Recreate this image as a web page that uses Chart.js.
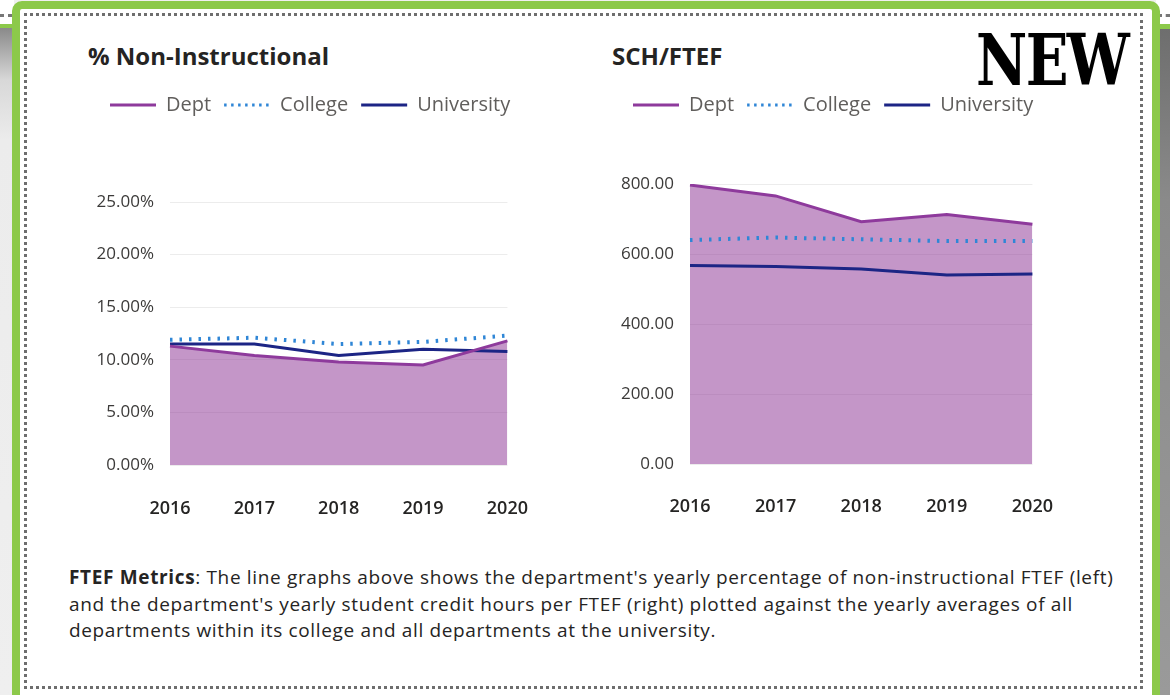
<!DOCTYPE html>
<html>
<head>
<meta charset="utf-8">
<script src="https://cdn.jsdelivr.net/npm/chart.js@4"></script>
<style>
  html, body { margin: 0; padding: 0; }
  body { width: 1170px; height: 695px; position: relative; overflow: hidden; background: #f0f0f0; font-family: "Open Sans", sans-serif; }
  .strip-l { position: absolute; left: 0; top: 0; width: 14px; height: 695px;
    background: linear-gradient(#fff 0, #fff 24px, #8cc94a 24px, #8cc94a 28px, #8a8a8a 28px, #d8d8d8 80px, #ececec 140px, #efefef 100%); }
  .strip-r { position: absolute; right: 0; top: 0; width: 14px; height: 695px;
    background: linear-gradient(#fff 0, #fff 24px, #8cc94a 24px, #8cc94a 29px, #6e6e6e 29px, #8a8a8a 200px, #9a9a9a 100%); }
  .dots-l { position: absolute; left: 0; top: 14px; width: 12px; border-top: 3px dotted #777; }
  .dots-r { position: absolute; right: 0; top: 14px; width: 12px; border-top: 3px dotted #777; }
  .card { position: absolute; left: 12px; top: 1px; width: 1132px; height: 740px; background: #fff;
    border: 8px solid #8cc94a; border-radius: 10px; }
  .inner { position: absolute; left: 24px; top: 13px; width: 1113px; height: 670px; border: 3px dotted #6e6e6e; }
  .title { position: absolute; font-weight: 700; font-size: 24px; color: #252423; line-height: 1; }
  .stamp { position: absolute; left: 976px; top: 25px; font-family: "DejaVu Serif", serif; font-weight: 900;
    font-size: 71px; line-height: 1; color: #000; transform: scaleX(0.79); transform-origin: 0 0; letter-spacing: -2px; }
  .wrap { position: absolute; }
  .desc { position: absolute; left: 69px; top: 564px; font-size: 19px; letter-spacing: 0.65px; line-height: 26.5px; color: #252423; white-space: nowrap; }
</style>
</head>
<body>
<div class="strip-l"></div><div class="strip-r"></div>
<div class="dots-l"></div><div class="dots-r"></div>
<div class="card"></div>
<div class="inner"></div>
<div class="title" style="left:88px; top:44px;">% Non-Instructional</div>
<div class="title" style="left:612px; top:44px;">SCH/FTEF</div>
<div class="stamp">NEW</div>
<div class="wrap" style="left:97px; top:82px; width:431px; height:443px;"><canvas id="left"></canvas></div>
<div class="wrap" style="left:620px; top:82px; width:433px; height:442px;"><canvas id="right"></canvas></div>
<div class="desc"><b>FTEF Metrics</b>: The line graphs above shows the department's yearly percentage of non-instructional FTEF (left)<br>and the department's yearly student credit hours per FTEF (right) plotted against the yearly averages of all<br>departments within its college and all departments at the university.</div>
<script>
const years = ['2016', '2017', '2018', '2019', '2020'];
const seriesNames = ['Dept', 'College', 'University'];

// % non-instructional FTEF
const nonInstrDept = [11.3, 10.4, 9.8, 9.5, 11.8];
const nonInstrCollege = [11.9, 12.1, 11.5, 11.7, 12.3];
const nonInstrUniv = [11.5, 11.5, 10.4, 11.0, 10.8];
const nonInstrTicks = [0, 5, 10, 15, 20, 25];

// student credit hours per FTEF
const schDept = [797, 766, 692, 713, 685];
const schCollege = [640, 647, 642, 637, 637];
const schUniv = [567, 564, 557, 540, 543];
const schTicks = [0, 200, 400, 600, 800];

const DEPT = '#8e3a9c';
const DEPT_FILL = 'rgba(144, 57, 151, 0.53)';
const COLLEGE = '#2f86d6';
const UNIV = '#1c2585';

function datasets(dept, college, univ) {
  return [
    { label: seriesNames[0], data: dept, borderColor: DEPT, backgroundColor: DEPT_FILL, borderWidth: 3, fill: 'origin' },
    { label: seriesNames[1], data: college, borderColor: COLLEGE, backgroundColor: COLLEGE, borderWidth: 4, borderDash: [2.5, 7], fill: false },
    { label: seriesNames[2], data: univ, borderColor: UNIV, backgroundColor: UNIV, borderWidth: 3, fill: false },
  ];
}

// legend lines keep the dataset dash
function legendLabels(chart) {
  return Chart.defaults.plugins.legend.labels.generateLabels(chart).map(item => {
    const ds = chart.data.datasets[item.datasetIndex];
    item.lineWidth = 3;
    item.lineDash = ds.borderDash ? [2.5, 4.5] : [];
    return item;
  });
}

function makeChart(id, dsets, ticks, fmt, axisW, spacer, xGap) {
  return new Chart(document.getElementById(id), {
    type: 'line',
    data: { labels: years, datasets: dsets },
    options: {
      responsive: true,
      maintainAspectRatio: false,
      animation: false,
      layout: { padding: 0 },
      elements: { point: { radius: 0 }, line: { tension: 0 } },
      plugins: {
        filler: { drawTime: 'beforeDatasetsDraw' },
        tooltip: { enabled: false },
        legend: {
          position: 'top',
          align: 'start',
          labels: {
            usePointStyle: true, pointStyle: 'line', pointStyleWidth: 46,
            padding: 13, color: '#605e5c',
            font: { family: 'Open Sans', size: 20 },
            generateLabels: legendLabels,
          },
        },
        title: { display: true, text: '', weight: 100, font: { size: 1, lineHeight: 1 }, padding: { top: 0, bottom: spacer } },
      },
      scales: {
        x: {
          offset: false,
          grid: { display: false, drawTicks: true, tickLength: xGap },
          border: { display: false },
          ticks: { padding: 0, color: '#252423', maxRotation: 0, font: { family: 'Open Sans', size: 18, weight: 600 } },
          afterFit(s) { s.height = 60; },
        },
        y: {
          min: ticks[0], max: ticks[ticks.length - 1],
          grid: { color: '#ececec', drawTicks: false },
          border: { display: false },
          ticks: { padding: 16, color: '#3b3a39', font: { family: 'Open Sans', size: 17 }, callback: fmt },
          afterBuildTicks(s) { s.ticks = ticks.map(v => ({ value: v })); },
          afterFit(s) { s.width = axisW; },
        },
      },
    },
  });
}

makeChart('left', datasets(nonInstrDept, nonInstrCollege, nonInstrUniv), nonInstrTicks,
  v => v.toFixed(2) + '%', 73, 76, 33);
makeChart('right', datasets(schDept, schCollege, schUniv), schTicks,
  v => v.toFixed(2), 70, 58, 32);
</script>
</body>
</html>
